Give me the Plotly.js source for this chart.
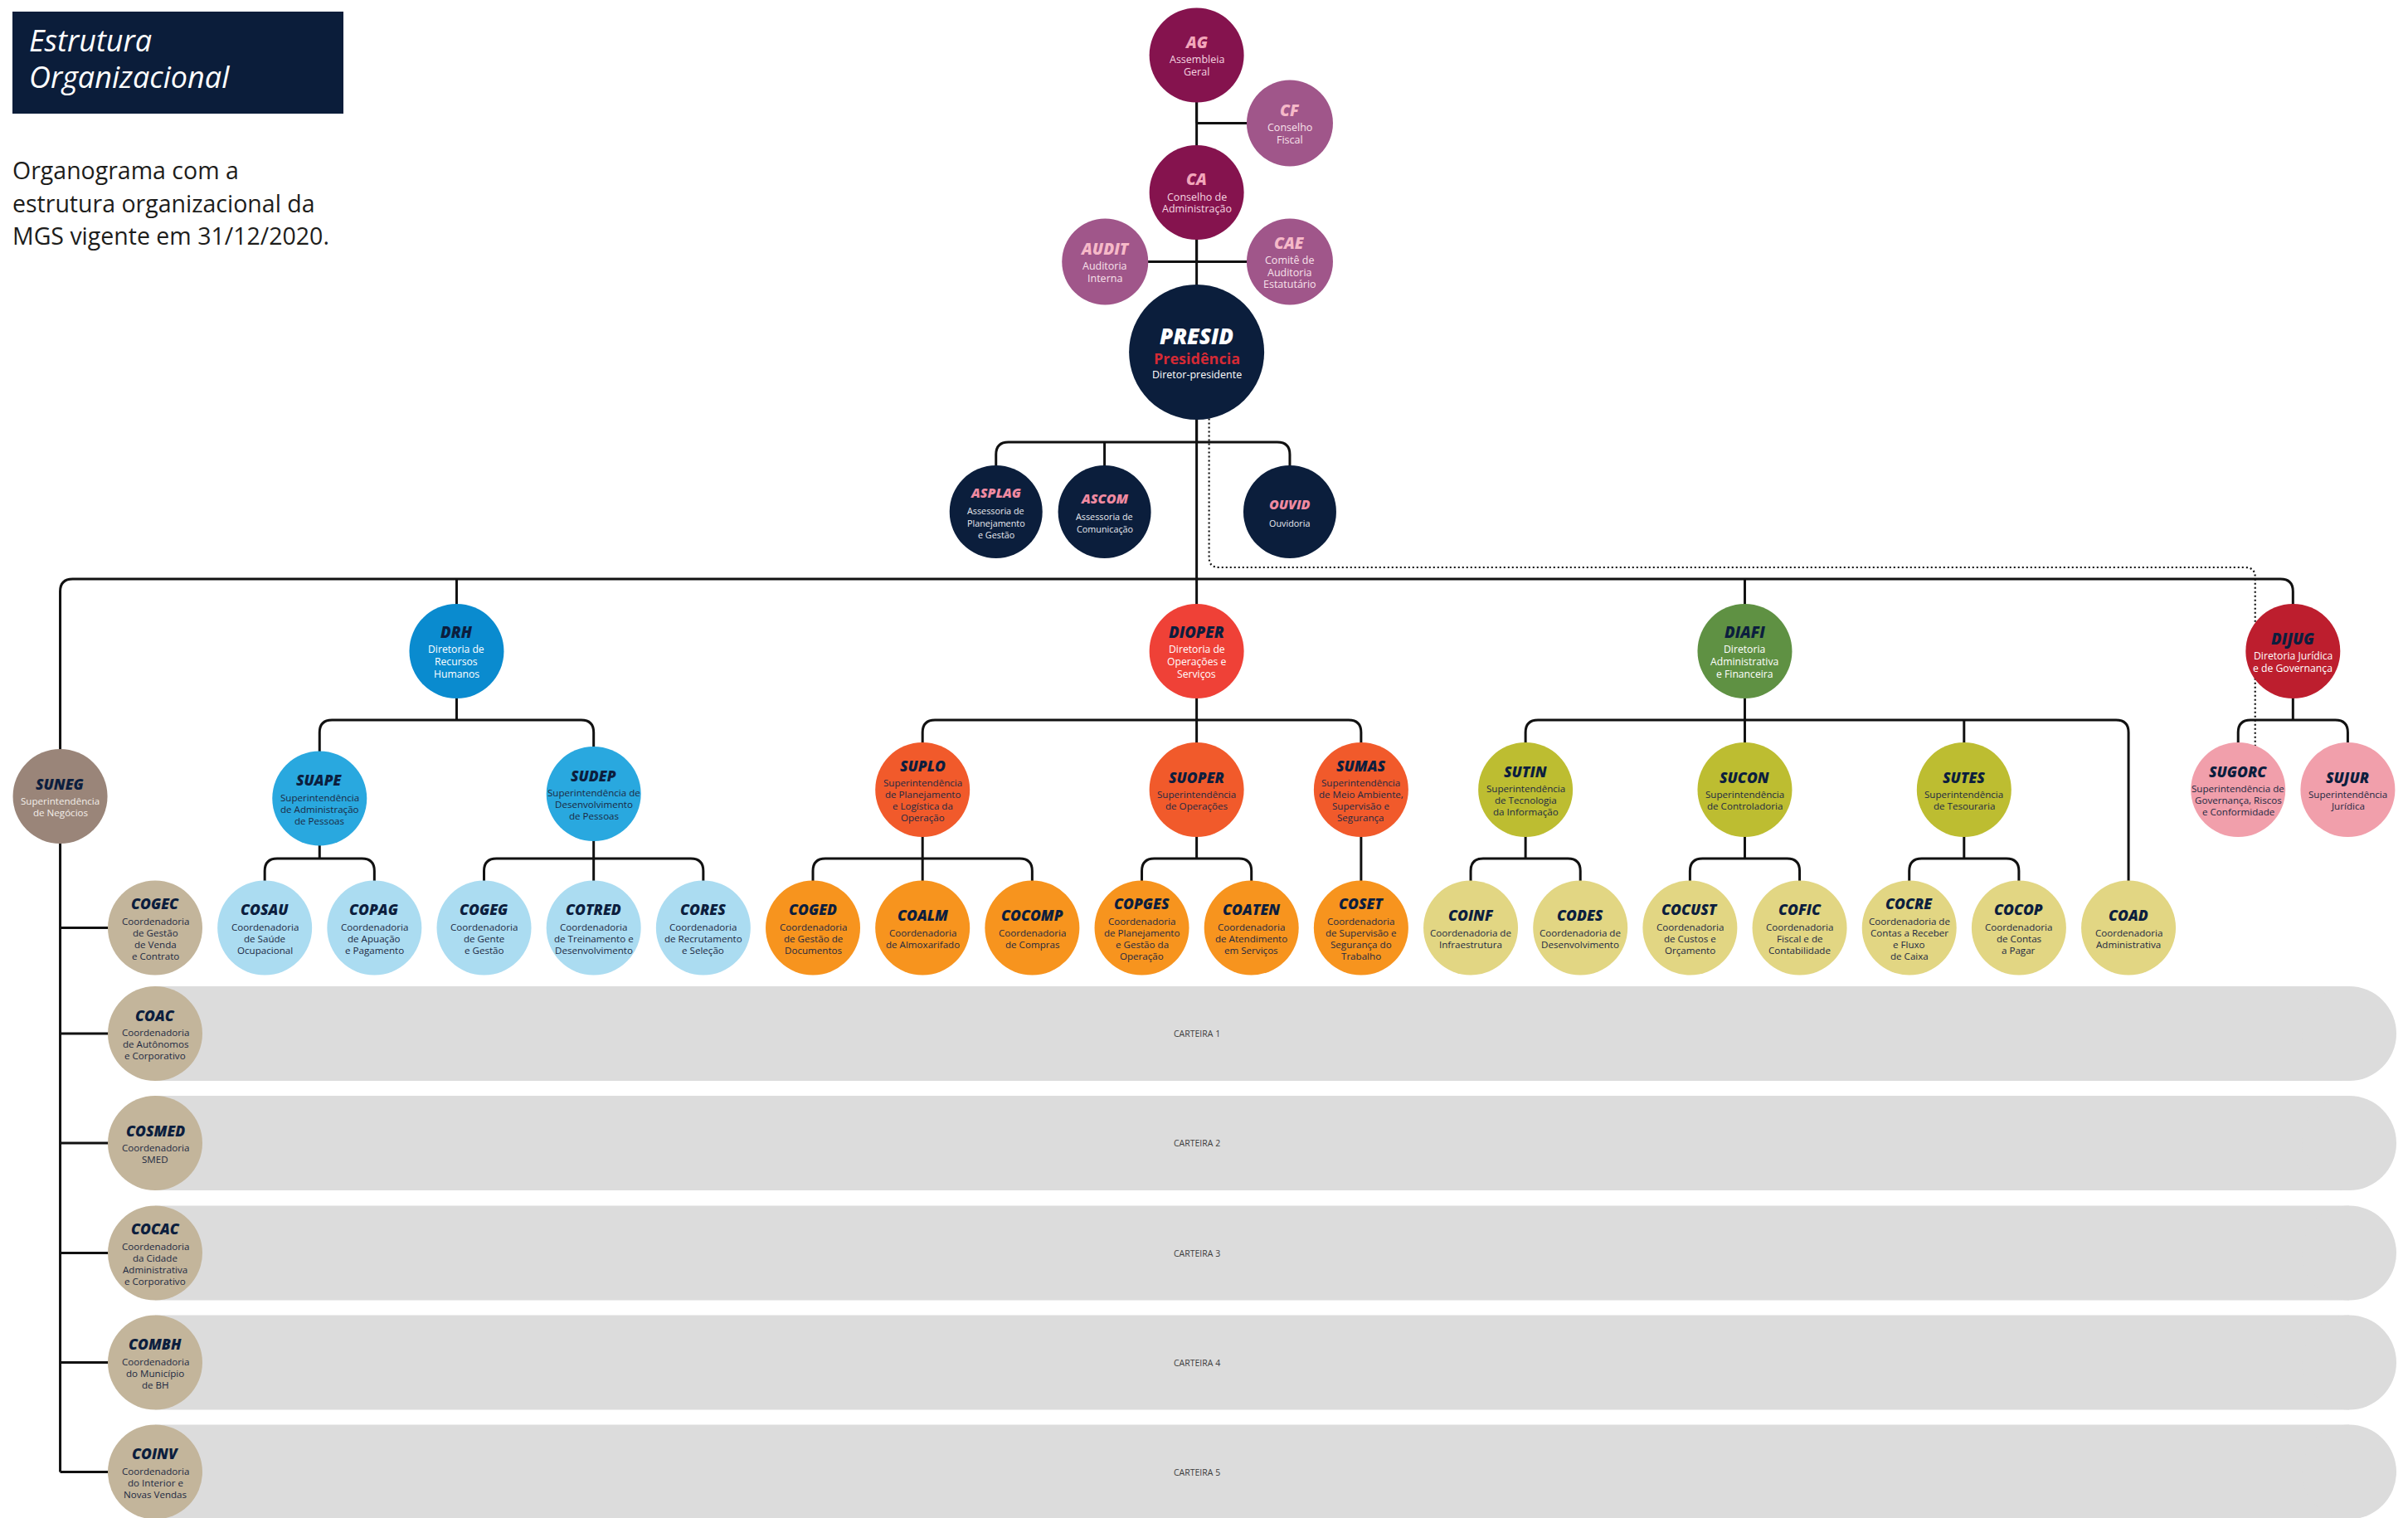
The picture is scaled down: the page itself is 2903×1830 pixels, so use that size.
<!DOCTYPE html>
<html>
<head>
<meta charset="utf-8">
<script src="https://cdn.plot.ly/plotly-3.0.1.min.js"></script>
<style>html,body{margin:0;padding:0;background:#fff}#chart{width:2903px;height:1830px}</style>
</head>
<body>
<div id="chart"></div>
<script>
// ================= DATA =================
const ids = ['AG','CF','CA','AUDIT','CAE','PRESID','ASPLAG','ASCOM','OUVID',
  'SUNEG','DRH','DIOPER','DIAFI','DIJUG',
  'SUAPE','SUDEP','SUPLO','SUOPER','SUMAS','SUTIN','SUCON','SUTES','SUGORC','SUJUR',
  'COGEC','COSAU','COPAG','COGEG','COTRED','CORES','COGED','COALM','COCOMP','COPGES','COATEN','COSET',
  'COINF','CODES','COCUST','COFIC','COCRE','COCOP','COAD',
  'COAC','COSMED','COCAC','COMBH','COINV'];

const parents = [null,'AG','AG','CA','CA','CA','PRESID','PRESID','PRESID',
  'PRESID','PRESID','PRESID','PRESID','PRESID',
  'DRH','DRH','DIOPER','DIOPER','DIOPER','DIAFI','DIAFI','DIAFI','DIJUG','DIJUG',
  'SUNEG','SUAPE','SUAPE','SUDEP','SUDEP','SUDEP','SUPLO','SUPLO','SUPLO','SUOPER','SUOPER','SUMAS',
  'SUTIN','SUTIN','SUCON','SUCON','SUTES','SUTES','DIAFI',
  'SUNEG','SUNEG','SUNEG','SUNEG','SUNEG'];

const descriptions = [
  ['Assembleia','Geral'],
  ['Conselho','Fiscal'],
  ['Conselho de','Administração'],
  ['Auditoria','Interna'],
  ['Comitê de','Auditoria','Estatutário'],
  ['Presidência','Diretor-presidente'],
  ['Assessoria de','Planejamento','e Gestão'],
  ['Assessoria de','Comunicação'],
  ['Ouvidoria'],
  ['Superintendência','de Negócios'],
  ['Diretoria de','Recursos','Humanos'],
  ['Diretoria de','Operações e','Serviços'],
  ['Diretoria','Administrativa','e Financeira'],
  ['Diretoria Jurídica','e de Governança'],
  ['Superintendência','de Administração','de Pessoas'],
  ['Superintendência de','Desenvolvimento','de Pessoas'],
  ['Superintendência','de Planejamento','e Logística da','Operação'],
  ['Superintendência','de Operações'],
  ['Superintendência','de Meio Ambiente,','Supervisão e','Segurança'],
  ['Superintendência','de Tecnologia','da Informação'],
  ['Superintendência','de Controladoria'],
  ['Superintendência','de Tesouraria'],
  ['Superintendência de','Governança, Riscos','e Conformidade'],
  ['Superintendência','Jurídica'],
  ['Coordenadoria','de Gestão','de Venda','e Contrato'],
  ['Coordenadoria','de Saúde','Ocupacional'],
  ['Coordenadoria','de Apuação','e Pagamento'],
  ['Coordenadoria','de Gente','e Gestão'],
  ['Coordenadoria','de Treinamento e','Desenvolvimento'],
  ['Coordenadoria','de Recrutamento','e Seleção'],
  ['Coordenadoria','de Gestão de','Documentos'],
  ['Coordenadoria','de Almoxarifado'],
  ['Coordenadoria','de Compras'],
  ['Coordenadoria','de Planejamento','e Gestão da','Operação'],
  ['Coordenadoria','de Atendimento','em Serviços'],
  ['Coordenadoria','de Supervisão e','Segurança do','Trabalho'],
  ['Coordenadoria de','Infraestrutura'],
  ['Coordenadoria de','Desenvolvimento'],
  ['Coordenadoria','de Custos e','Orçamento'],
  ['Coordenadoria','Fiscal e de','Contabilidade'],
  ['Coordenadoria de','Contas a Receber','e Fluxo','de Caixa'],
  ['Coordenadoria','de Contas','a Pagar'],
  ['Coordenadoria','Administrativa'],
  ['Coordenadoria','de Autônomos','e Corporativo'],
  ['Coordenadoria','SMED'],
  ['Coordenadoria','da Cidade','Administrativa','e Corporativo'],
  ['Coordenadoria','do Município','de BH'],
  ['Coordenadoria','do Interior e','Novas Vendas']
];

const groups = ['govMain','govSub','govMain','govSub','govSub','presid','assess','assess','assess',
  'suneg','drh','dioper','diafi','dijug',
  'suBlue','suBlue','suOrange','suOrange','suOrange','suOlive','suOlive','suOlive','suPink','suPink',
  'coBeige','coBlue','coBlue','coBlue','coBlue','coBlue','coOrange','coOrange','coOrange','coOrange','coOrange','coOrange',
  'coYellow','coYellow','coYellow','coYellow','coYellow','coYellow','coYellow',
  'coBeige','coBeige','coBeige','coBeige','coBeige'];

const carteiraUnits  = ['COAC','COSMED','COCAC','COMBH','COINV'];
const carteiraLabels = ['CARTEIRA 1','CARTEIRA 2','CARTEIRA 3','CARTEIRA 4','CARTEIRA 5'];
const dottedLink = ['PRESID','SUGORC'];

const titleLines = ['Estrutura','Organizacional'];
const subtitleLines = ['Organograma com a','estrutura organizacional da','MGS vigente em 31/12/2020.'];

// ================= LAYOUT CONFIG =================
const W = 2903, H = 1830;
const X0 = 187, SLOT_W = 132.17;
const SLOT = {AG:9.5, CF:10.35, CA:9.5, AUDIT:8.665, CAE:10.35, PRESID:9.5,
  ASPLAG:7.67, ASCOM:8.66, OUVID:10.35,
  SUNEG:-0.866, DRH:2.75, DIOPER:9.5, DIAFI:14.5, DIJUG:19.5,
  SUAPE:1.5, SUDEP:4, SUPLO:7, SUOPER:9.5, SUMAS:11, SUTIN:12.5, SUCON:14.5, SUTES:16.5, SUGORC:19, SUJUR:20,
  COGEC:0, COSAU:1, COPAG:2, COGEG:3, COTRED:4, CORES:5, COGED:6, COALM:7, COCOMP:8, COPGES:9, COATEN:10, COSET:11,
  COINF:12, CODES:13, COCUST:14, COFIC:15, COCRE:16, COCOP:17, COAD:18,
  COAC:0, COSMED:0, COCAC:0, COMBH:0, COINV:0};
const ROW_Y = {g1:66.5, g2:148.5, g3:232, g4:315.5, pres:424.5, assess:617, dir:785, sup:952, coord:1118.5,
  c1:1246, c2:1378, c3:1510.5, c4:1642.5, c5:1774.5};
const ROW = {AG:'g1', CF:'g2', CA:'g3', AUDIT:'g4', CAE:'g4', PRESID:'pres', ASPLAG:'assess', ASCOM:'assess', OUVID:'assess',
  SUNEG:'sup', DRH:'dir', DIOPER:'dir', DIAFI:'dir', DIJUG:'dir',
  COAC:'c1', COSMED:'c2', COCAC:'c3', COMBH:'c4', COINV:'c5'};
const Y_ADJ = {SUAPE:10.5, SUDEP:5, SUNEG:8};
const LINK = {CF:'side', CA:'stem', AUDIT:'side', CAE:'side', PRESID:'stem', ASPLAG:'b1', ASCOM:'b1', OUVID:'b1',
  SUNEG:'b2', DRH:'b2', DIOPER:'b2', DIAFI:'b2', DIJUG:'b2', COAD:'b3',
  COGEC:'side', COAC:'side', COSMED:'side', COCAC:'side', COMBH:'side', COINV:'side'};
const BRACKET_Y = {b1:533, b2:698, b3:868, b4:1035};
const CORNER = 15;
const BAR_END = 2889;

const STYLE = {
  govMain: {fill:'#85134e', title:'#f2a6ba', desc:'#f5d6e1', tier:'gov', r:57},
  govSub:  {fill:'#a0568a', title:'#f6b9c8', desc:'#f8e2ea', tier:'gov', r:52},
  presid:  {fill:'#0b1e3c', r:81.5},
  assess:  {fill:'#0b1e3c', title:'#f08aa1', desc:'#e8eaf0', tier:'assess', r:56},
  drh:     {fill:'#0a8bcf', title:'#0c1e3e', desc:'#ffffff', tier:'dir', r:57},
  dioper:  {fill:'#ef4137', title:'#0c1e3e', desc:'#ffffff', tier:'dir', r:57},
  diafi:   {fill:'#5f9143', title:'#0c1e3e', desc:'#ffffff', tier:'dir', r:57},
  dijug:   {fill:'#bd1e2e', title:'#0c1e3e', desc:'#ffffff', tier:'dir', r:57},
  suneg:   {fill:'#9a8579', title:'#0c1e3e', desc:'#f4efea', tier:'sub', r:57},
  suBlue:  {fill:'#29a8df', title:'#0c1e3e', desc:'#1c2942', tier:'sub', r:57},
  suOrange:{fill:'#f15a2b', title:'#0c1e3e', desc:'#1c2942', tier:'sub', r:57},
  suOlive: {fill:'#bdbd31', title:'#0c1e3e', desc:'#1c2942', tier:'sub', r:57},
  suPink:  {fill:'#f19fab', title:'#0c1e3e', desc:'#1c2942', tier:'sub', r:57},
  coBlue:  {fill:'#abdcf1', title:'#0c1e3e', desc:'#1c2942', tier:'sub', r:57},
  coOrange:{fill:'#f7941e', title:'#0c1e3e', desc:'#1c2942', tier:'sub', r:57},
  coYellow:{fill:'#e2d683', title:'#0c1e3e', desc:'#1c2942', tier:'sub', r:57},
  coBeige: {fill:'#c3b59b', title:'#0c1e3e', desc:'#1c2942', tier:'sub', r:57}
};
const TIER_TEXT = {
  gov:    {tsize:19,   dsize:12.5, gap:21, step:14.2},
  assess: {tsize:16,   dsize:10.8, gap:22, step:14.3},
  dir:    {tsize:18.5, dsize:12.2, gap:21, step:15},
  sub:    {tsize:17.5, dsize:11.6, gap:21, step:14}
};
const PRESID_TEXT = [ {dy:-19.5, size:26, color:'#ffffff', weight:800, style:'italic'},
                      {dy:7.5,   size:18, color:'#d42a35', weight:700, style:'normal'},
                      {dy:26.5,  size:12.5, color:'#ffffff', weight:400, style:'normal'} ];
const FONT = '"Open Sans", Lato, "DejaVu Sans", sans-serif';
const LINE_COLOR = '#111111';

// ================= BUILD =================
const idx = {}; ids.forEach((id,i)=>idx[id]=i);
const px = id => X0 + SLOT[id]*SLOT_W;
const rowOf = id => ROW[id] || (groups[idx[id]].startsWith('su') ? 'sup' : 'coord');
const py = id => ROW_Y[rowOf(id)] + (Y_ADJ[id]||0);
const linkOf = id => LINK[id] || (groups[idx[id]].startsWith('su') ? 'b3' : 'b4');

const shapes = [];
const annotations = [];

shapes.push({type:'rect', xref:'x', yref:'y', x0:15, x1:414, y0:14, y1:137, fillcolor:'#0b1d3a', line:{width:0}, layer:'below'});

carteiraUnits.forEach((u,k)=>{
  const cy = py(u), r = STYLE[groups[idx[u]]].r;
  shapes.push({type:'rect', xref:'x', yref:'y', x0:px(u), x1:BAR_END - r, y0:cy - r, y1:cy + r, fillcolor:'#dcdcdc', line:{width:0}, layer:'below'});
  shapes.push({type:'circle', xref:'x', yref:'y', x0:BAR_END - 2*r, x1:BAR_END, y0:cy - r, y1:cy + r, fillcolor:'#dcdcdc', line:{width:0}, layer:'below'});
  annotations.push({x:px('PRESID'), y:cy, xref:'x', yref:'y', text:carteiraLabels[k], showarrow:false,
    font:{family:FONT, size:10.5, color:'#3c3c3c'}});
});

function addLine(path, dash, width){
  shapes.push({type:'path', xref:'x', yref:'y', path, layer:'below', fillcolor:'rgba(0,0,0,0)',
    line:{color:LINE_COLOR, width:width||3, dash:dash||'solid'}});
}

const linkGroups = {};
ids.forEach((id,i)=>{
  const p = parents[i]; if(!p) return;
  const k = linkOf(id);
  const key = p + '|' + k;
  (linkGroups[key] = linkGroups[key] || {parent:p, kind:k, kids:[]}).kids.push(id);
});

Object.values(linkGroups).forEach(g=>{
  const p = g.parent, xp = px(p), yp = py(p);
  if (g.kind === 'stem') {
    g.kids.forEach(k=>addLine(`M${xp},${yp} L${px(k)},${py(k)}`));
  } else if (g.kind === 'side') {
    const ymax = Math.max(...g.kids.map(py));
    addLine(`M${xp},${yp} L${xp},${ymax}`);
    g.kids.forEach(k=>addLine(`M${xp},${py(k)} L${px(k)},${py(k)}`));
  } else {
    const by = BRACKET_Y[g.kind];
    const xs = g.kids.map(px);
    const xmin = Math.min(...xs), xmax = Math.max(...xs);
    const kmin = g.kids[xs.indexOf(xmin)], kmax = g.kids[xs.indexOf(xmax)];
    addLine(`M${xp},${yp} L${xp},${by}`);
    if (xmax - xmin < 1) {
      addLine(`M${xmin},${by} L${xmin},${py(kmin)}`);
    } else {
      const R = CORNER;
      addLine(`M${xmin},${py(kmin)} L${xmin},${by+R} Q${xmin},${by} ${xmin+R},${by} L${xmax-R},${by} Q${xmax},${by} ${xmax},${by+R} L${xmax},${py(kmax)}`);
      g.kids.forEach(k=>{ const x = px(k); if (x > xmin+1 && x < xmax-1) addLine(`M${x},${by} L${x},${py(k)}`); });
    }
  }
});

(function(){
  const a = dottedLink[0], b = dottedLink[1];
  const xa = px(a) + 15, xb = px(b) + 20.5, yh = 684, R = 12;
  addLine(`M${xa},${py(a)} L${xa},${yh-R} Q${xa},${yh} ${xa+R},${yh} L${xb-R},${yh} Q${xb},${yh} ${xb},${yh+R} L${xb},${py(b)}`, '2px,3px', 2.2);
})();

function addText(x, y, text, size, color, weight, style){
  annotations.push({x, y, xref:'x', yref:'y', text, showarrow:false, xanchor:'center', yanchor:'middle',
    font:{family:FONT, size, color, weight:weight||400, style:style||'normal'}});
}
ids.forEach((id,i)=>{
  const st = STYLE[groups[i]];
  const x = px(id), cy = py(id);
  if (groups[i] === 'presid') {
    const texts = [id, descriptions[i][0], descriptions[i][1]];
    PRESID_TEXT.forEach((s,j)=>addText(x, cy + s.dy, texts[j], s.size, s.color, s.weight, s.style));
    return;
  }
  const tt = TIER_TEXT[st.tier];
  const d = descriptions[i];
  const total = tt.gap + tt.step*(d.length - 1);
  const ty = cy - total/2 + 2;
  addText(x, ty, id, tt.tsize, st.title, 800, 'italic');
  d.forEach((ln,j)=>addText(x, ty + tt.gap + j*tt.step, ln, tt.dsize, st.desc, 400));
});

titleLines.forEach((t,k)=>annotations.push({x:33, y:48 + k*44, xref:'x', yref:'y', xanchor:'left', yanchor:'middle',
  showarrow:false, text:t, font:{family:FONT, size:36, color:'#ffffff', style:'italic'}}));
subtitleLines.forEach((t,k)=>annotations.push({x:13, y:205 + k*39.5, xref:'x', yref:'y', xanchor:'left', yanchor:'middle',
  showarrow:false, text:t, font:{family:FONT, size:28.5, color:'#1d1d1b'}}));

const trace = {
  type:'scatter', mode:'markers', x:ids.map(px), y:ids.map(py), hoverinfo:'skip',
  marker:{size:ids.map((id,i)=>2*STYLE[groups[i]].r), color:ids.map((id,i)=>STYLE[groups[i]].fill), line:{width:0}, opacity:1}
};

const layout = {
  width:W, height:H, margin:{l:0,r:0,t:0,b:0}, paper_bgcolor:'#ffffff', plot_bgcolor:'#ffffff',
  showlegend:false,
  xaxis:{range:[0,W], visible:false, fixedrange:true},
  yaxis:{range:[H,0], visible:false, fixedrange:true},
  shapes, annotations
};

Plotly.newPlot('chart', [trace], layout, {staticPlot:true, displayModeBar:false});
</script>
</body>
</html>
